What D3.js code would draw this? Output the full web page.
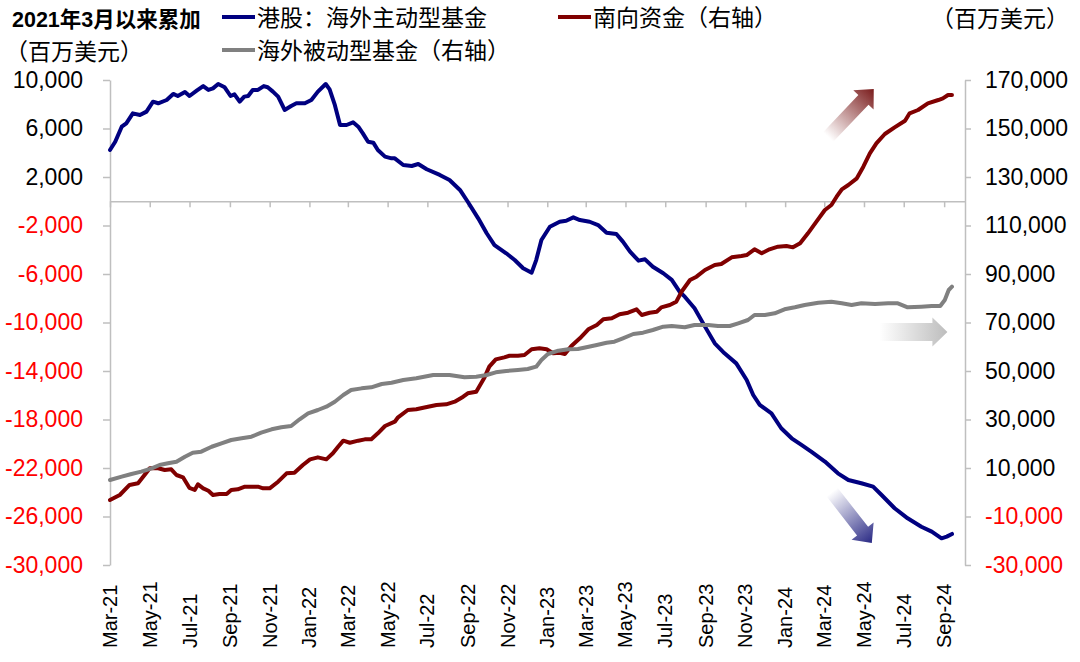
<!DOCTYPE html>
<html><head><meta charset="utf-8">
<script src="https://cdn.jsdelivr.net/npm/d3@7"></script>
<style>
html,body{margin:0;padding:0;background:#fff;}
svg{display:block;}
text{font-family:"Liberation Sans","Noto Sans CJK SC",sans-serif;}
</style></head><body>
<svg id="chart" width="1080" height="662"></svg>
<script>
// ---------- DATA ----------
const xTickLabels = ["Mar-21","May-21","Jul-21","Sep-21","Nov-21","Jan-22","Mar-22","May-22","Jul-22","Sep-22","Nov-22","Jan-23","Mar-23","May-23","Jul-23","Sep-23","Nov-23","Jan-24","Mar-24","May-24","Jul-24","Sep-24"];
const leftTicks = [10000,6000,2000,-2000,-6000,-10000,-14000,-18000,-22000,-26000,-30000];
const rightTicks = [170000,150000,130000,110000,90000,70000,50000,30000,10000,-10000,-30000];

// 港股：海外主动型基金 (left axis)
const activeDates = ["2021-03-01","2021-03-09","2021-03-19","2021-03-26","2021-04-05","2021-04-16","2021-04-26","2021-05-06","2021-05-14","2021-05-27","2021-06-06","2021-06-13","2021-06-24","2021-07-01","2021-07-12","2021-07-22","2021-07-30","2021-08-06","2021-08-14","2021-08-24","2021-09-02","2021-09-08","2021-09-16","2021-09-23","2021-09-29","2021-10-06","2021-10-14","2021-10-23","2021-10-29","2021-11-06","2021-11-14","2021-11-24","2021-12-04","2021-12-12","2021-12-25","2022-01-04","2022-01-14","2022-01-26","2022-02-01","2022-02-09","2022-02-17","2022-02-27","2022-03-09","2022-03-17","2022-03-24","2022-04-01","2022-04-09","2022-04-16","2022-04-27","2022-05-07","2022-05-12","2022-05-25","2022-06-07","2022-06-17","2022-06-30","2022-07-20","2022-08-04","2022-08-20","2022-09-01","2022-09-17","2022-09-30","2022-10-12","2022-10-30","2022-11-12","2022-11-25","2022-12-08","2022-12-15","2022-12-23","2023-01-05","2023-01-20","2023-01-30","2023-02-10","2023-02-20","2023-03-07","2023-03-20","2023-04-02","2023-04-17","2023-04-27","2023-05-08","2023-05-21","2023-05-31","2023-06-12","2023-06-28","2023-07-11","2023-07-23","2023-07-31","2023-08-15","2023-08-31","2023-09-15","2023-09-30","2023-10-18","2023-11-03","2023-11-13","2023-11-23","2023-12-11","2023-12-26","2024-01-11","2024-01-26","2024-02-10","2024-03-02","2024-03-22","2024-04-07","2024-04-27","2024-05-15","2024-05-28","2024-06-17","2024-07-07","2024-07-28","2024-08-13","2024-08-28","2024-09-05","2024-09-13"];
const activeValues = [4230,4910,6150,6430,7250,7110,7390,8210,8080,8350,8850,8680,9010,8680,9120,9500,9180,9310,9670,9400,8680,8820,8210,8630,8680,9180,9180,9500,9400,9040,8630,7530,7860,8080,8080,8350,9040,9670,9230,7940,6290,6290,6510,6150,5600,4910,4830,4230,3680,3540,3540,2990,2910,3070,2640,2170,1750,930,-40,-1410,-2640,-3610,-4290,-4850,-5530,-5890,-4850,-3200,-2100,-1690,-1610,-1330,-1550,-1690,-1960,-2590,-2700,-3330,-4160,-4900,-4790,-5400,-5940,-6490,-7460,-7870,-8830,-10340,-11720,-12540,-13370,-14740,-15980,-16800,-17490,-18720,-19550,-20100,-20650,-21470,-22440,-22990,-23260,-23540,-24230,-25320,-26150,-26840,-27250,-27800,-27660,-27440];

// 南向资金（右轴）
const southDates = ["2021-03-01","2021-03-16","2021-03-31","2021-04-13","2021-04-23","2021-05-01","2021-05-14","2021-05-24","2021-06-03","2021-06-11","2021-06-21","2021-07-01","2021-07-09","2021-07-14","2021-07-22","2021-07-30","2021-08-06","2021-08-16","2021-08-27","2021-09-03","2021-09-13","2021-09-24","2021-10-06","2021-10-14","2021-10-22","2021-11-01","2021-11-14","2021-11-27","2021-12-09","2021-12-22","2022-01-02","2022-01-14","2022-01-27","2022-02-06","2022-02-14","2022-02-22","2022-03-04","2022-03-17","2022-03-27","2022-04-06","2022-04-16","2022-04-27","2022-05-12","2022-05-17","2022-06-01","2022-06-14","2022-07-02","2022-07-15","2022-07-30","2022-08-12","2022-08-25","2022-09-01","2022-09-14","2022-09-26","2022-10-04","2022-10-14","2022-10-27","2022-11-04","2022-11-17","2022-11-27","2022-12-08","2022-12-20","2022-12-31","2023-01-10","2023-01-20","2023-01-28","2023-02-07","2023-02-20","2023-03-05","2023-03-18","2023-03-28","2023-04-10","2023-04-22","2023-05-05","2023-05-18","2023-05-26","2023-06-07","2023-06-18","2023-06-25","2023-07-08","2023-07-18","2023-07-26","2023-08-08","2023-08-18","2023-08-31","2023-09-15","2023-09-25","2023-10-11","2023-10-26","2023-11-03","2023-11-15","2023-11-26","2023-12-08","2023-12-21","2024-01-03","2024-01-13","2024-01-24","2024-02-05","2024-02-18","2024-03-02","2024-03-12","2024-03-20","2024-03-28","2024-04-07","2024-04-20","2024-04-30","2024-05-10","2024-05-20","2024-06-02","2024-06-17","2024-07-03","2024-07-10","2024-07-23","2024-08-07","2024-08-23","2024-08-30","2024-09-07","2024-09-13"];
const southValues = [-3200,-1130,3010,3690,7110,9880,9880,9180,9460,7110,6170,1760,930,3280,1620,640,-1130,-720,-720,930,1210,2290,2290,2290,1620,1620,4350,7800,8060,11240,13570,14400,13570,16060,18760,21270,20420,21270,21820,21820,24310,27320,29100,30900,33920,34200,35270,35980,36240,37340,39400,40800,41470,46980,51790,54800,55640,56300,56300,56600,58960,59350,58960,57300,57550,57010,60300,63480,67200,68970,71300,71730,73380,74030,75430,73090,74030,74450,76260,77220,78580,82700,87530,88900,91650,93710,94120,96870,97420,97830,100180,98540,100180,101260,101550,100990,102660,106780,111570,116390,118450,121870,124920,126700,129460,134260,139770,143890,147730,150480,153210,156270,157630,160390,161750,162440,163810,163810];

// 海外被动型基金（右轴）
const passiveDates = ["2021-03-01","2021-03-19","2021-04-03","2021-04-18","2021-05-04","2021-05-16","2021-05-29","2021-06-11","2021-06-24","2021-07-06","2021-07-19","2021-08-04","2021-08-19","2021-09-03","2021-09-19","2021-10-04","2021-10-19","2021-11-04","2021-11-19","2021-12-04","2021-12-17","2021-12-30","2022-01-14","2022-01-27","2022-02-09","2022-02-22","2022-03-06","2022-03-22","2022-04-06","2022-04-22","2022-05-07","2022-05-25","2022-06-14","2022-07-10","2022-08-04","2022-08-27","2022-09-14","2022-09-30","2022-10-14","2022-10-30","2022-11-17","2022-12-02","2022-12-15","2022-12-23","2023-01-02","2023-01-18","2023-02-02","2023-02-17","2023-03-02","2023-03-18","2023-04-02","2023-04-14","2023-04-27","2023-05-13","2023-05-28","2023-06-12","2023-06-28","2023-07-11","2023-07-23","2023-07-31","2023-08-15","2023-09-05","2023-09-20","2023-10-08","2023-10-21","2023-11-05","2023-11-15","2023-12-01","2023-12-16","2023-12-31","2024-01-16","2024-01-31","2024-02-21","2024-03-12","2024-03-28","2024-04-12","2024-04-27","2024-05-18","2024-06-07","2024-06-22","2024-07-07","2024-07-28","2024-08-13","2024-08-26","2024-09-02","2024-09-08","2024-09-13"];
const passiveValues = [5050,6420,7530,8490,9880,11240,11930,12600,14660,16310,16740,18760,20190,21550,22260,22900,24560,25960,26780,27320,30090,32560,33920,35270,37340,40100,42160,42840,43260,44640,45180,46290,46990,48350,48350,47390,47670,48350,49460,50000,50410,50830,51790,54540,57010,58370,58960,59070,59780,60720,61670,62100,63480,65260,65800,66910,68270,68560,68270,68020,68970,68970,68560,68560,69670,71030,73090,73090,73790,75430,76260,77220,78170,78580,77920,77220,77920,77630,77920,77920,76260,76530,76810,76810,79280,83400,84770];

// annotation arrows (data space): [tailDate, tailValue, tipDate, tipValue]
const arrowRed = ["2024-03-07",146500,"2024-05-16",166300];     // right axis
const arrowBlue = ["2024-03-13",-23980,"2024-05-13",-28180];    // left axis
const arrowGray = ["2024-05-25",66100,"2024-09-06",66100];      // right axis

// ---------- CHART ----------
const parseDate = d3.timeParse("%Y-%m-%d");
const parseTick = d3.timeParse("%b-%y");
const svg = d3.select("#chart");
const axisColor = "#bfbfbf";
const fmt = v => d3.format(",")(v).replace("\u2212","-");

const x = d3.scaleTime().domain([new Date(2021,2,1), new Date(2024,9,3)]).range([110,965]);
const yL = d3.scaleLinear().domain([-30000,10000]).range([565,80]);
const yR = d3.scaleLinear().domain([-30000,170000]).range([565,80]);

// left axis
const gL = svg.append("g").attr("transform","translate(110,0)")
  .call(d3.axisLeft(yL).tickValues(leftTicks).tickFormat(fmt).tickSizeInner(7).tickSizeOuter(0).tickPadding(20));
// right axis
const gR = svg.append("g").attr("transform","translate(965,0)")
  .call(d3.axisRight(yR).tickValues(rightTicks).tickFormat(fmt).tickSizeInner(6).tickSizeOuter(0).tickPadding(14));
[gL,gR].forEach(g=>{
  g.select(".domain").attr("stroke",axisColor).attr("stroke-width",1.5);
  g.selectAll(".tick line").attr("stroke",axisColor).attr("stroke-width",1.5);
  g.selectAll(".tick text").attr("font-size",23).attr("font-family","Liberation Sans, Arial, sans-serif")
    .attr("fill",d=>d<0?"#ff0000":"#000000");
});

// x axis (at zero of left axis)
const tickDates = xTickLabels.map(parseTick);
const gX = svg.append("g").attr("transform",`translate(0,${yL(0)})`)
  .call(d3.axisBottom(x).tickValues(tickDates).tickFormat("").tickSizeInner(6).tickSizeOuter(0));
gX.select(".domain").attr("stroke",axisColor).attr("stroke-width",1.5);
gX.selectAll(".tick line").attr("stroke",axisColor).attr("stroke-width",1.5);

// x labels at bottom, rotated
svg.append("g").selectAll("text").data(tickDates).join("text")
  .attr("transform",d=>`translate(${x(d)},648) rotate(-90)`)
  .attr("dy","0.35em").attr("text-anchor","start")
  .attr("font-size",20).attr("font-family","Liberation Sans, Arial, sans-serif").attr("fill","#000")
  .text((d,i)=>xTickLabels[i]);

// lines
function series(dates, values){ return dates.map((d,i)=>({date:parseDate(d), v:values[i]})); }
const lineL = d3.line().x(d=>x(d.date)).y(d=>yL(d.v));
const lineR = d3.line().x(d=>x(d.date)).y(d=>yR(d.v));
const lines = [
  {data:series(activeDates,activeValues), gen:lineL, color:"#000080"},
  {data:series(southDates,southValues), gen:lineR, color:"#800000"},
  {data:series(passiveDates,passiveValues), gen:lineR, color:"#808080"}
];
svg.append("g").selectAll("path").data(lines).join("path")
  .attr("d",d=>d.gen(d.data)).attr("fill","none").attr("stroke",d=>d.color)
  .attr("stroke-width",4).attr("stroke-linejoin","round").attr("stroke-linecap","round");

// arrows
const defs = svg.append("defs");
function arrow(spec, yScale, color, id, shaftW, headW, headL){
  const x0 = x(parseDate(spec[0])), y0 = yScale(spec[1]);
  const x1 = x(parseDate(spec[2])), y1 = yScale(spec[3]);
  const dx = x1-x0, dy = y1-y0, len = Math.hypot(dx,dy);
  const ux = dx/len, uy = dy/len, px = -uy, py = ux;
  const bx = x1-ux*headL, by = y1-uy*headL;
  const pts = [
    [x0+px*shaftW/2, y0+py*shaftW/2],
    [bx+px*shaftW/2, by+py*shaftW/2],
    [bx+px*headW/2, by+py*headW/2],
    [x1,y1],
    [bx-px*headW/2, by-py*headW/2],
    [bx-px*shaftW/2, by-py*shaftW/2],
    [x0-px*shaftW/2, y0-py*shaftW/2]
  ];
  const g = defs.append("linearGradient").attr("id",id).attr("gradientUnits","userSpaceOnUse")
    .attr("x1",x0).attr("y1",y0).attr("x2",x1).attr("y2",y1);
  g.append("stop").attr("offset","0%").attr("stop-color",color).attr("stop-opacity",0);
  g.append("stop").attr("offset","100%").attr("stop-color",color).attr("stop-opacity",1);
  svg.append("polygon").attr("points",pts.map(p=>p.join(",")).join(" ")).attr("fill",`url(#${id})`);
}
arrow(arrowRed, yR, "#7a1c1c", "gRed", 14, 28, 15);
arrow(arrowBlue, yL, "#2a2a85", "gBlue", 14, 28, 15);
arrow(arrowGray, yR, "#bdbdbd", "gGray", 18, 29, 15);

// titles / units
svg.append("text").attr("x",12).attr("y",27).attr("font-size",21.5).attr("font-weight","bold").attr("fill","#000")
  .text("2021年3月以来累加");
svg.append("text").attr("x",5).attr("y",60).attr("font-size",23).attr("fill","#000").text("（百万美元）");
svg.append("text").attr("x",931).attr("y",27).attr("font-size",23).attr("fill","#000").text("（百万美元）");

// legend
const legendItems = [
  {label:"港股：海外主动型基金", color:"#000080", x:222, y:17},
  {label:"南向资金（右轴）", color:"#800000", x:558, y:17},
  {label:"海外被动型基金（右轴）", color:"#808080", x:222, y:50}
];
const lg = svg.append("g").selectAll("g").data(legendItems).join("g");
lg.append("line").attr("x1",d=>d.x).attr("x2",d=>d.x+33).attr("y1",d=>d.y).attr("y2",d=>d.y)
  .attr("stroke",d=>d.color).attr("stroke-width",4);
lg.append("text").attr("x",d=>d.x+35).attr("y",d=>d.y+9).attr("font-size",23).attr("fill","#000").text(d=>d.label);
</script>
</body></html>
